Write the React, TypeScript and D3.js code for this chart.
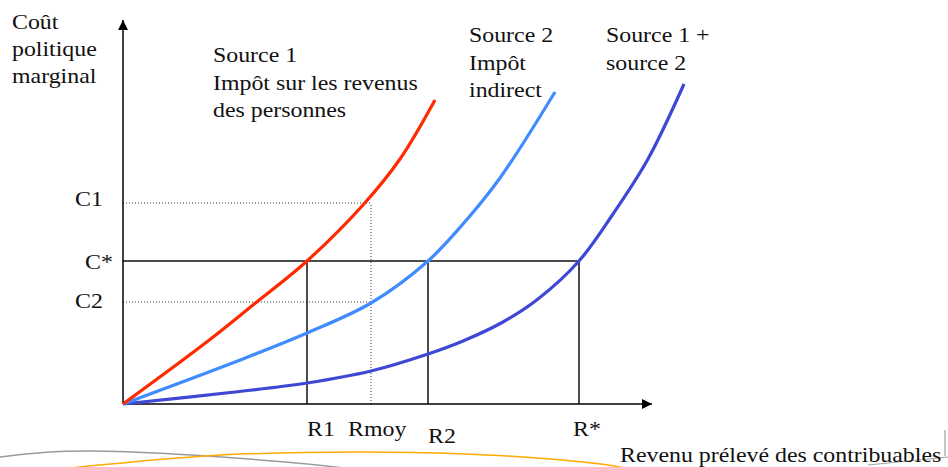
import React from "react";
import * as d3 from "d3";

// Data (units: abstract revenue / cost)
const redCurve: [number, number][] = [[0, 0], [85, 63], [130, 99], [184, 143], [240, 199], [277, 245], [312, 304]];
const lightBlueCurve: [number, number][] = [[0, 0], [112, 42], [184, 71], [248, 101], [305, 143], [340, 180], [377, 226], [432, 312]];
const darkBlueCurve: [number, number][] = [[0, 0], [112, 12], [184, 21], [248, 33], [305, 50], [340, 63], [380, 82], [415, 105], [456, 143], [490, 190], [525, 245], [561, 320]];

const xRefs = [
  { name: "R1", value: 184 },
  { name: "Rmoy", value: 248 },
  { name: "R2", value: 305 },
  { name: "R*", value: 456 },
];
const yRefs = [
  { name: "C1", value: 201 },
  { name: "C*", value: 143 },
  { name: "C2", value: 102 },
];
const xAxisMax = 529;
const yAxisMax = 384;

const decoGray: [number, number][] = [[0, 457], [40, 452], [100, 450], [200, 455], [300, 463], [345, 468]];
const decoOrange: [number, number][] = [[70, 468], [200, 455], [300, 452], [420, 452], [500, 455], [600, 463], [625, 468]];

const FONT = "Liberation Serif";
const SX = 1.11;

function T({ x, y, children }: { x: number; y: number; children: React.ReactNode }) {
  return (
    <text transform={`translate(${x},${y}) scale(${SX},1)`} fontFamily={FONT} fontSize={21.5} fill="#111">
      {children}
    </text>
  );
}

export default function App() {
  const x = d3.scaleLinear().domain([0, 532]).range([123, 655]);
  const y = d3.scaleLinear().domain([0, 389]).range([404, 15]);
  const line = d3.line<[number, number]>().x((d) => x(d[0])).y((d) => y(d[1])).curve(d3.curveCatmullRom.alpha(0.5));
  const deco = d3.line<[number, number]>().curve(d3.curveBasis);

  const R1 = xRefs[0].value, Rmoy = xRefs[1].value, R2 = xRefs[2].value, Rs = xRefs[3].value;
  const C1 = yRefs[0].value, Cs = yRefs[1].value, C2 = yRefs[2].value;

  return (
    <svg width={948} height={467} style={{ position: "absolute", left: 0, top: 0, background: "#fff" }}>
      <defs>
        <marker id="arr" viewBox="0 0 10 10" refX="10" refY="5" markerWidth="10" markerHeight="10" markerUnits="userSpaceOnUse" orient="auto">
          <path d="M0,0 L10,5 L0,10 z" fill="#000" />
        </marker>
      </defs>

      {/* decorations */}
      <path d={deco(decoGray) || ""} fill="none" stroke="#9a9a9a" strokeWidth={1.5} />
      <path d={deco(decoOrange) || ""} fill="none" stroke="#ffaa00" strokeWidth={1.5} />
      <path d="M945,430 L945,456 M868,465 L948,457" fill="none" stroke="#a0a0a0" strokeWidth={1.2} />

      {/* dotted refs */}
      <line x1={x(0)} x2={x(Rmoy)} y1={y(C1)} y2={y(C1)} stroke="#333" strokeWidth={1} strokeDasharray="1,2" />
      <line x1={x(0)} x2={x(Rmoy)} y1={y(C2)} y2={y(C2)} stroke="#333" strokeWidth={1} strokeDasharray="1,2" />
      <line x1={x(Rmoy)} x2={x(Rmoy)} y1={y(0)} y2={y(C1)} stroke="#333" strokeWidth={1} strokeDasharray="1,2" />

      {/* solid refs */}
      <line x1={x(0)} x2={x(Rs)} y1={y(Cs)} y2={y(Cs)} stroke="#111" strokeWidth={1.5} />
      {[R1, R2, Rs].map((r, i) => (
        <line key={i} x1={x(r)} x2={x(r)} y1={y(0)} y2={y(Cs)} stroke="#111" strokeWidth={1.5} />
      ))}

      {/* axes */}
      <line x1={x(0)} y1={y(0)} x2={x(0)} y2={y(yAxisMax)} stroke="#000" strokeWidth={1.5} markerEnd="url(#arr)" />
      <line x1={x(0)} y1={y(0)} x2={x(xAxisMax)} y2={y(0)} stroke="#000" strokeWidth={1.5} markerEnd="url(#arr)" />

      {/* curves */}
      <path d={line(darkBlueCurve) || ""} fill="none" stroke="#3e48d4" strokeWidth={3.2} />
      <path d={line(lightBlueCurve) || ""} fill="none" stroke="#3f8bff" strokeWidth={3.2} />
      <path d={line(redCurve) || ""} fill="none" stroke="#ff2a00" strokeWidth={3.2} />

      {/* labels */}
      <T x={12} y={29}>Coût</T>
      <T x={12} y={56}>politique</T>
      <T x={12} y={83}>marginal</T>

      <T x={213} y={62}>Source 1</T>
      <T x={213} y={90}>Impôt sur les revenus</T>
      <T x={213} y={117}>des personnes</T>

      <T x={469} y={42}>Source 2</T>
      <T x={469} y={70}>Impôt</T>
      <T x={469} y={97}>indirect</T>

      <T x={606} y={42}>Source 1 +</T>
      <T x={606} y={70}>source 2</T>

      <T x={75} y={206}>C1</T>
      <T x={85} y={269}>C*</T>
      <T x={75} y={308}>C2</T>

      <T x={307} y={436}>R1</T>
      <T x={348} y={436}>Rmoy</T>
      <T x={428} y={443}>R2</T>
      <T x={573} y={436}>R*</T>

      <T x={620} y={462}>Revenu prélevé des contribuables</T>
    </svg>
  );
}
